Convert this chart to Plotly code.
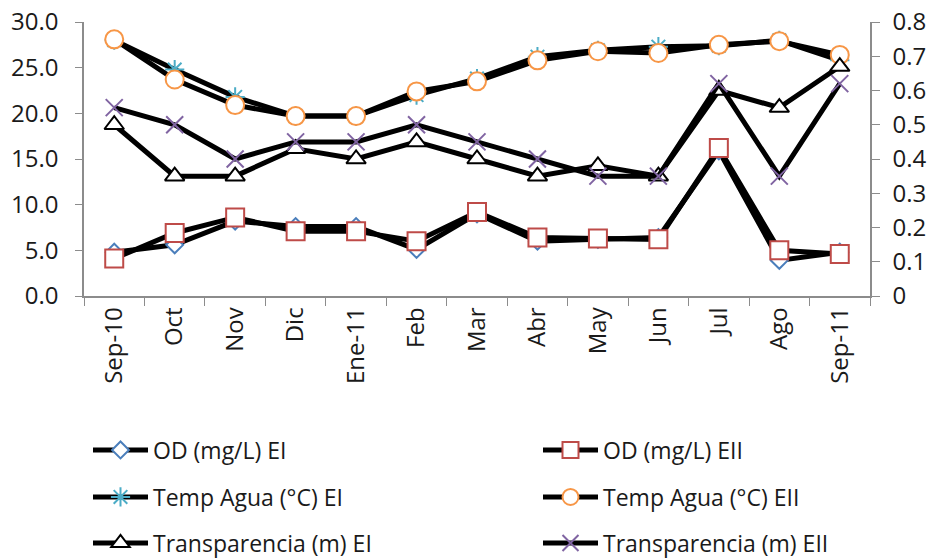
import plotly.graph_objects as go

# Monthly sampling, Sep 2010 - Sep 2011
months = ["Sep-10", "Oct", "Nov", "Dic", "Ene-11", "Feb", "Mar", "Abr",
          "May", "Jun", "Jul", "Ago", "Sep-11"]

# Dissolved oxygen (mg/L) at stations EI and EII
od_ei = [4.8, 5.6, 8.2, 7.6, 7.6, 5.1, 9.0, 6.0, 6.2, 6.4, 15.9, 3.9, 4.8]
od_eii = [4.1, 6.9, 8.6, 7.1, 7.1, 6.0, 9.2, 6.4, 6.3, 6.2, 16.2, 5.0, 4.6]

# Water temperature (°C)
temp_ei = [28.0, 24.8, 21.8, 19.7, 19.7, 22.0, 23.8, 26.2, 26.9, 27.3, 27.4, 28.0, 25.8]
temp_eii = [28.1, 23.7, 20.9, 19.7, 19.7, 22.4, 23.5, 25.8, 26.8, 26.6, 27.5, 27.9, 26.4]

# Secchi transparency (m), right axis
tr_ei = [0.50, 0.35, 0.35, 0.43, 0.40, 0.45, 0.40, 0.35, 0.38, 0.35, 0.60, 0.55, 0.67]
tr_eii = [0.55, 0.50, 0.40, 0.45, 0.45, 0.50, 0.45, 0.40, 0.35, 0.35, 0.62, 0.35, 0.62]

left_ticks = [0, 5, 10, 15, 20, 25, 30]
right_ticks = [0, 0.1, 0.2, 0.3, 0.4, 0.5, 0.6, 0.7, 0.8]

FONT = "Open Sans"
AXIS_GRAY = "#8c8c8c"

series = [
    ("OD (mg/L) EI", od_ei, "y", "diamond", "#4A7EBB", 13, "legend"),
    ("OD (mg/L) EII", od_eii, "y", "square", "#BE4B48", 18, "legend2"),
    ("Temp Agua (°C) EI", temp_ei, "y", "asterisk", "#4BACC6", 16, "legend3"),
    ("Temp Agua (°C) EII", temp_eii, "y", "circle", "#F79646", 18, "legend4"),
    ("Transparencia (m) EI", tr_ei, "y2", "triangle-up", "#000000", 17, "legend5"),
    ("Transparencia (m) EII", tr_eii, "y2", "x-thin", "#8064A2", 17, "legend6"),
]

fig = go.Figure()
for name, vals, yax, sym, col, size, leg in series:
    fig.add_trace(go.Scatter(
        x=months, y=vals, name=name, yaxis=yax, legend=leg,
        mode="lines+markers",
        line=dict(color="black", width=5),
        marker=dict(symbol=sym, size=size, color="white",
                    line=dict(color=col, width=2)),
    ))

# Legend: two columns, three rows under the plot
plot_left, plot_w = 84, 786
plot_bottom, plot_h = 296, 274
col_px = [88, 538]
row_px = [450, 497, 543]
leg_names = ["legend", "legend2", "legend3", "legend4", "legend5", "legend6"]
legend_layout = {}
for i, ln in enumerate(leg_names):
    cx = col_px[i % 2]
    ry = row_px[i // 2]
    legend_layout[ln] = dict(
        x=(cx - plot_left) / plot_w, xanchor="left",
        y=(plot_bottom - ry) / plot_h, yanchor="middle",
        font=dict(family=FONT, size=23, color="#1a1a1a"),
        itemwidth=55, bgcolor="rgba(0,0,0,0)", borderwidth=0,
    )

fig.update_layout(
    width=933, height=559,
    margin=dict(l=84, r=63, t=22, b=263, autoexpand=False),
    paper_bgcolor="white", plot_bgcolor="white",
    showlegend=True,
    xaxis=dict(
        type="category", range=[-0.5, 12.5],
        showline=True, linecolor=AXIS_GRAY, linewidth=1.5,
        ticks="outside", tickson="boundaries", ticklen=8, tickcolor=AXIS_GRAY,
        tickangle=-90, showgrid=False, zeroline=False,
        tickfont=dict(family=FONT, size=24, color="#1a1a1a"),
    ),
    yaxis=dict(
        range=[0, 30], tickvals=left_ticks, tickformat=".1f",
        showline=True, linecolor=AXIS_GRAY, linewidth=1.5,
        ticks="outside", ticklen=7, tickcolor=AXIS_GRAY,
        ticklabelstandoff=12,
        showgrid=False, zeroline=False,
        tickfont=dict(family=FONT, size=24, color="#1a1a1a"),
    ),
    yaxis2=dict(
        range=[0, 0.8], tickvals=right_ticks,
        ticktext=["0"] + [f"{v:.1f}" for v in right_ticks[1:]],
        overlaying="y", side="right",
        showline=True, linecolor=AXIS_GRAY, linewidth=1.5,
        ticks="outside", ticklen=8, tickcolor=AXIS_GRAY,
        ticklabelstandoff=8,
        showgrid=False, zeroline=False,
        tickfont=dict(family=FONT, size=24, color="#1a1a1a"),
    ),
    **legend_layout,
)

fig.write_html("out.html")
